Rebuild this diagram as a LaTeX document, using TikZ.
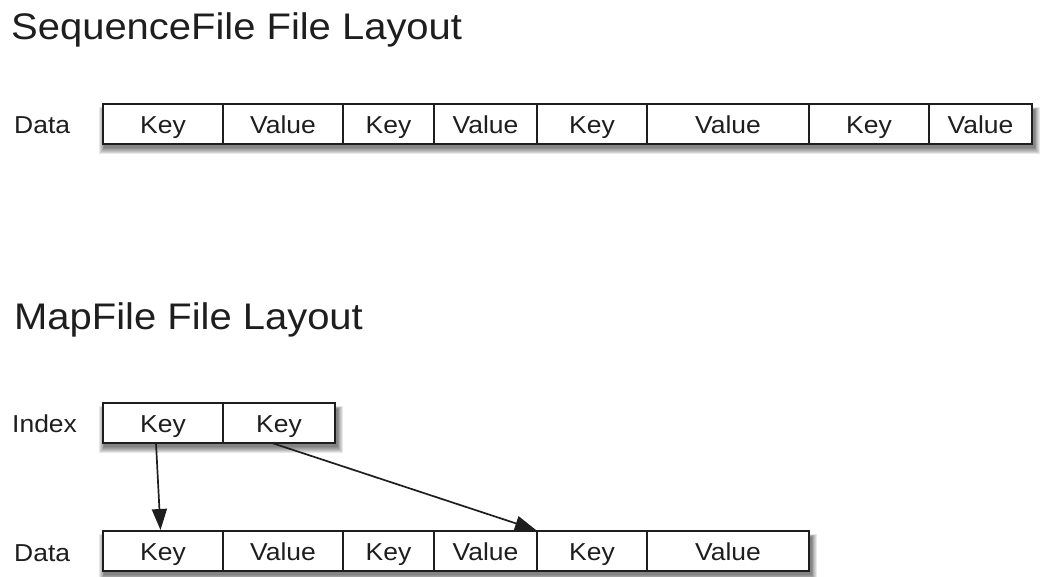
\documentclass[tikz,border=0pt]{standalone}
\usepackage{fontspec}
\setmainfont{Liberation Sans}[FakeStretch=1.08]
\usetikzlibrary{arrows.meta}
\definecolor{ink}{HTML}{1E1E1E}
\tikzset{
  cell/.style={draw=ink, line width=1.7pt, fill=white},
  celltext/.style={anchor=base, font=\fontsize{24.5}{28}\selectfont, text=ink, inner sep=0pt},
  rowlabel/.style={anchor=base west, font=\fontsize{24.5}{28}\selectfont, text=ink, inner sep=0pt},
  title/.style={anchor=base west, font=\fontsize{37}{42}\selectfont, text=ink, inner sep=0pt},
  link/.style={draw=ink, line width=1.7pt, -{Triangle[width=15pt,length=21pt]}},
}
% shadow: layered translucent rectangles
\newcommand{\softshadow}[4]{% x1 y1 x2 y2 (pixel coords, y down)
  \foreach \k in {1,...,7}{
    \fill[black, opacity=0.09]
      ({#1+2-\k*0.8},{#2+6-\k*0.4}) rectangle ({#3+2+\k*0.8},{#4+3+\k*1.0});
  }
}
\begin{document}
\begin{tikzpicture}[x=1pt,y=-1pt]
\useasboundingbox (0,0) rectangle (1046,576);

% titles
\node[title] (t1) at (11,39) {SequenceFile File Layout};
\node[title] (t2) at (14,329) {MapFile File Layout};

% row labels
\node[rowlabel] (l1) at (14,133) {Data};
\node[rowlabel] (l2) at (12,432) {Index};
\node[rowlabel] (l3) at (14,561) {Data};

% shadows
\softshadow{103}{104}{1032}{144}
\softshadow{103}{403}{335}{443}
\softshadow{103}{531}{809}{571}

% SequenceFile data row
\foreach \a/\b/\t [count=\i] in {103/223/Key,223/343/Value,343/434/Key,434/537/Value,537/647/Key,647/809/Value,809/929/Key,929/1032/Value}{
  \draw[cell] (\a,104) rectangle (\b,144);
  \node[celltext] (s\i) at ({(\a+\b)/2},133) {\t};
}

% MapFile index row
\foreach \a/\b/\t [count=\i] in {103/223/Key,223/335/Key}{
  \draw[cell] (\a,403) rectangle (\b,443);
  \node[celltext] (i\i) at ({(\a+\b)/2},432) {\t};
}

% MapFile data row
\foreach \a/\b/\t [count=\i] in {103/223/Key,223/343/Value,343/434/Key,434/537/Value,537/647/Key,647/809/Value}{
  \draw[cell] (\a,531) rectangle (\b,571);
  \node[celltext] (d\i) at ({(\a+\b)/2},560) {\t};
}

% arrow end points
\coordinate (a1s) at (156,443);
\coordinate (a1e) at (160.5,530);
\coordinate (a2s) at (272,443);
\coordinate (a2e) at (536,530);
\draw[link] (a1s) -- (a1e);
\draw[link] (a2s) -- (a2e);
\end{tikzpicture}
\end{document}
